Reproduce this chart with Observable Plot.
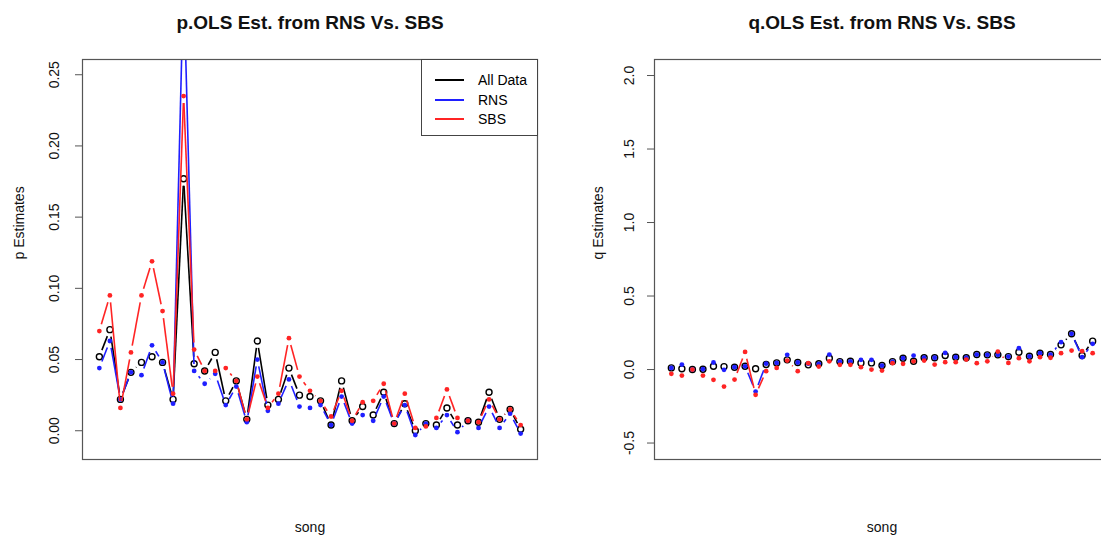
<!DOCTYPE html>
<html>
<head>
<meta charset="utf-8">
<script src="https://cdn.jsdelivr.net/npm/d3@7"></script>
<script src="https://cdn.jsdelivr.net/npm/@observablehq/plot@0.6"></script>
<style>
  html, body { margin: 0; padding: 0; background: #fff; overflow: hidden; }
  #wrap { position: relative; width: 1101px; height: 538px; overflow: hidden; }
  #left { position: absolute; left: 0; top: 0; width: 550px; }
  #right { position: absolute; left: 550px; top: 0; width: 560px; }
  svg { font-family: "Liberation Sans", Arial, sans-serif; max-width: none !important; }
  .legend {
    position: absolute; left: 421px; top: 59px; width: 115px; height: 75px;
    border: 1px solid #444; background: #fff;
    font-family: "Liberation Sans", Arial, sans-serif; font-size: 14px; color: #000;
  }
  .legend .row { position: absolute; left: 0; height: 18px; line-height: 18px; }
  .legend .sw { position: absolute; left: 13px; top: 8px; width: 29px; height: 2px; }
  .legend .lab { position: absolute; left: 56px; top: 0; white-space: nowrap; }
</style>
</head>
<body>
<div id="wrap">
  <div id="left"></div>
  <div id="right"></div>
</div>
<script>
// Song index along the x axis
const songs = d3.range(1, 42);

// p estimates (OLS) per song
const pAll = [0.052, 0.071, 0.022, 0.041, 0.048, 0.052, 0.048, 0.022, 0.177, 0.047,
              0.042, 0.055, 0.021, 0.035, 0.008, 0.063, 0.018, 0.022, 0.044, 0.025,
              0.024, 0.021, 0.004, 0.035, 0.007, 0.017, 0.011, 0.027, 0.005, 0.019,
              0.000, 0.005, 0.004, 0.016, 0.004, 0.007, 0.006, 0.027, 0.008, 0.015, 0.001];
const pRNS = [0.044, 0.063, 0.022, 0.041, 0.039, 0.060, 0.048, 0.019, 0.318, 0.042,
              0.033, 0.040, 0.018, 0.031, 0.006, 0.050, 0.014, 0.019, 0.036, 0.017,
              0.016, 0.018, 0.004, 0.024, 0.005, 0.011, 0.007, 0.024, 0.005, 0.018,
              -0.003, 0.005, 0.002, 0.011, -0.001, 0.007, 0.002, 0.017, 0.002, 0.012, -0.002];
const pSBS = [0.070, 0.095, 0.016, 0.055, 0.095, 0.119, 0.084, 0.026, 0.235, 0.057,
              0.042, 0.042, 0.044, 0.035, 0.008, 0.038, 0.016, 0.026, 0.065, 0.038,
              0.028, 0.021, 0.010, 0.028, 0.007, 0.020, 0.021, 0.033, 0.005, 0.026,
              0.002, 0.003, 0.009, 0.029, 0.009, 0.007, 0.006, 0.022, 0.008, 0.015, 0.004];

// q estimates (OLS) per song
const qAll = [0.011, 0.005, 0.000, 0.002, 0.022, 0.020, 0.016, 0.022, 0.005, 0.034,
              0.045, 0.066, 0.048, 0.032, 0.039, 0.077, 0.054, 0.056, 0.045, 0.045,
              0.027, 0.054, 0.077, 0.056, 0.080, 0.080, 0.095, 0.084, 0.080, 0.102,
              0.100, 0.100, 0.088, 0.118, 0.090, 0.111, 0.102, 0.168, 0.243, 0.095, 0.193];
const qRNS = [0.011, 0.034, 0.000, 0.002, 0.048, -0.002, 0.016, 0.022, -0.150, 0.040,
              0.045, 0.100, 0.048, 0.040, 0.039, 0.102, 0.054, 0.056, 0.066, 0.066,
              0.027, 0.054, 0.077, 0.095, 0.080, 0.080, 0.113, 0.084, 0.080, 0.102,
              0.100, 0.100, 0.088, 0.145, 0.090, 0.111, 0.102, 0.186, 0.243, 0.084, 0.175];
const qSBS = [-0.029, -0.041, 0.000, -0.041, -0.070, -0.116, -0.068, 0.120, -0.172, -0.011,
              0.011, 0.061, -0.011, 0.043, 0.020, 0.056, 0.032, 0.032, 0.016, 0.000,
              -0.007, 0.043, 0.039, 0.056, 0.061, 0.034, 0.050, 0.050, 0.068, 0.043,
              0.056, 0.122, 0.045, 0.077, 0.056, 0.084, 0.080, 0.111, 0.129, 0.125, 0.111];

// Axis ticks
const pTicks = [0, 0.05, 0.10, 0.15, 0.20, 0.25];
const qTicks = [-0.5, 0, 0.5, 1.0, 1.5, 2.0];

const seriesNames = ["All Data", "RNS", "SBS"];
const seriesColors = ["#000000", "#1f1fff", "#ff2424"];

const rowsOf = (values, name) => songs.map((s, i) => ({song: s, value: values[i], series: name}));

// Gap (px) left around each point by the connecting segments ("both" style lines)
const GAP = 7;

function gapSegments(rows, sx, sy) {
  const segs = [];
  for (let i = 0; i < rows.length - 1; i++) {
    const a = rows[i], b = rows[i + 1];
    const x1 = sx.apply(a.song), y1 = sy.apply(a.value);
    const x2 = sx.apply(b.song), y2 = sy.apply(b.value);
    const dx = x2 - x1, dy = y2 - y1, len = Math.hypot(dx, dy);
    if (len <= 2 * GAP) continue;
    const ux = dx / len, uy = dy / len;
    segs.push({
      x1: sx.invert(x1 + ux * GAP), y1: sy.invert(y1 + uy * GAP),
      x2: sx.invert(x2 - ux * GAP), y2: sy.invert(y2 - uy * GAP)
    });
  }
  return segs;
}

function panel(cfg, segsBySeries) {
  const marks = [
    Plot.axisY(cfg.ticks, {
      anchor: "left", tickSize: 7, tickRotate: -90, tickPadding: cfg.tickPadding,
      lineAnchor: "middle", tickFormat: cfg.format, fontSize: 14, label: null,
      stroke: "#555", fill: "#111"
    }),
    Plot.text([cfg.title], {frameAnchor: "top", lineAnchor: "middle", dy: -37, fontWeight: "bold", fontSize: 19, fill: "#111"}),
    Plot.text(["song"], {frameAnchor: "bottom", lineAnchor: "middle", dy: 68, fontSize: 14, fill: "#111"}),
    Plot.text([cfg.ylabel], {frameAnchor: "left", dx: cfg.ylabelDx, rotate: -90, fontSize: 14, fill: "#111"})
  ];
  cfg.series.forEach((rows, k) => {
    const color = seriesColors[k];
    if (segsBySeries) {
      marks.push(Plot.link(segsBySeries[k], {
        x1: "x1", y1: "y1", x2: "x2", y2: "y2",
        stroke: color, strokeWidth: 1.6, clip: true
      }));
    }
    if (k === 0) {
      marks.push(Plot.dot(rows, {x: "song", y: "value", r: 3, stroke: color, strokeWidth: 1.4, fill: "none", clip: true}));
    } else {
      marks.push(Plot.dot(rows, {x: "song", y: "value", r: 2.4, fill: color, stroke: "none", clip: true}));
    }
  });
  marks.push(Plot.frame({stroke: "#555", strokeWidth: 1.2}));
  return Plot.plot({
    width: cfg.width, height: 538,
    marginTop: 59, marginBottom: 79, marginLeft: cfg.marginLeft, marginRight: cfg.marginRight,
    x: {domain: [songs[0] - 1.6, songs[songs.length - 1] + 1.6], axis: null},
    y: {domain: cfg.yDomain},
    style: {fontFamily: "'Liberation Sans', Arial, sans-serif", background: "transparent", maxWidth: "none"},
    marks
  });
}

function draw(cfg, container) {
  // first pass fixes the scales, second pass adds the gapped connecting segments
  const probe = panel(cfg, null);
  const sx = probe.scale("x"), sy = probe.scale("y");
  const segs = cfg.series.map(rows => gapSegments(rows, sx, sy));
  container.appendChild(panel(cfg, segs));
}

draw({
  width: 550, marginLeft: 82, marginRight: 13,
  yDomain: [-0.0202, 0.2607], ticks: pTicks, format: d => d.toFixed(2), tickPadding: 21,
  title: "p.OLS Est. from RNS Vs. SBS", ylabel: "p Estimates", ylabelDx: -63,
  series: [rowsOf(pAll, seriesNames[0]), rowsOf(pRNS, seriesNames[1]), rowsOf(pSBS, seriesNames[2])]
}, document.getElementById("left"));

draw({
  width: 560, marginLeft: 104, marginRight: 1,
  yDomain: [-0.612, 2.109], ticks: qTicks, format: d => d.toFixed(1), tickPadding: 18,
  title: "q.OLS Est. from RNS Vs. SBS", ylabel: "q Estimates", ylabelDx: -56,
  series: [rowsOf(qAll, seriesNames[0]), rowsOf(qRNS, seriesNames[1]), rowsOf(qSBS, seriesNames[2])]
}, document.getElementById("right"));

// Legend for the left panel
const legend = document.createElement("div");
legend.className = "legend";
seriesNames.forEach((name, k) => {
  const row = document.createElement("div");
  row.className = "row";
  row.style.top = (11 + k * 19.5) + "px";
  row.style.width = "115px";
  const sw = document.createElement("div");
  sw.className = "sw";
  sw.style.background = seriesColors[k];
  const lab = document.createElement("div");
  lab.className = "lab";
  lab.textContent = name;
  row.appendChild(sw);
  row.appendChild(lab);
  legend.appendChild(row);
});
document.getElementById("wrap").appendChild(legend);
</script>
</body>
</html>
